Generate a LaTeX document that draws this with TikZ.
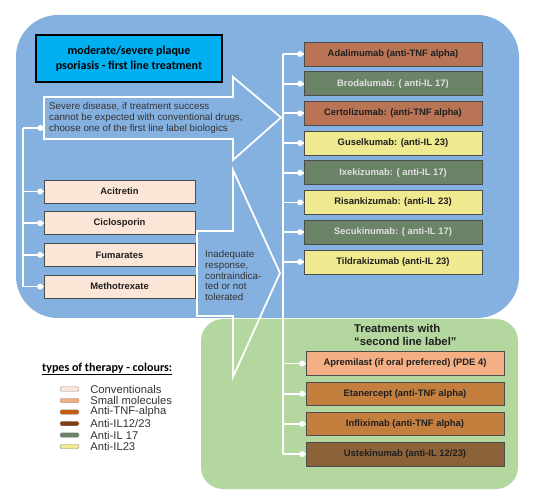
\documentclass[tikz,border=0pt]{standalone}
\usepackage{fontspec}
\setmainfont{Liberation Sans}
\newfontfamily\calib{Carlito}
\usepackage{xcolor}
\usepackage{tikz}
\usetikzlibrary{positioning}

\definecolor{bgblue}{RGB}{133,177,225}
\definecolor{bggreen}{RGB}{180,214,159}
\definecolor{titlecyan}{RGB}{0,176,240}
\definecolor{convfill}{RGB}{251,229,214}
\definecolor{smallfill}{RGB}{244,175,132}
\definecolor{tnffill}{RGB}{185,116,86}
\definecolor{tnftwo}{RGB}{196,127,63}
\definecolor{ilonetwo}{RGB}{140,98,57}
\definecolor{ilseventeen}{RGB}{107,132,104}
\definecolor{iltwothree}{RGB}{239,233,143}
\definecolor{legtnf}{RGB}{197,90,17}
\definecolor{legil}{RGB}{132,60,12}

\begin{document}
\begin{tikzpicture}[x=1pt,y=-1pt,
    drug/.style={draw=black!70,line width=0.7pt,minimum height=24pt,inner sep=0pt,font=\fontsize{9.4}{11}\selectfont\bfseries,text=black!88},
    bio/.style={drug,minimum width=178pt},
    second/.style={drug,minimum width=198pt,minimum height=23.5pt},
    conv/.style={drug,minimum width=151pt,minimum height=23pt,fill=convfill},
    wline/.style={draw=white,line width=1.8pt},
    swatch/.style={draw=black!40,fill=#1,rounded corners=1.5pt,minimum width=19pt,minimum height=4.5pt,inner sep=0pt},
    legtext/.style={font=\fontsize{11.2}{11.5}\selectfont,text=black!80,inner sep=0pt}]
        \useasboundingbox (0,0) rectangle (535,502);
        \fill[white] (0,0) rectangle (535,502);

        \fill[bggreen,rounded corners=22pt] (201,319) rectangle (518,489);
        \fill[bgblue,rounded corners=42pt] (16,15) rectangle (519,318);

        \draw[wline,line join=miter] (44,97)--(233,97)--(233,77)--(281,117.5)--(233,160)--(233,139)--(44,139)--cycle;
        \draw[wline,line join=miter] (197,231)--(233,231)--(233,170)--(280,273)--(233,377)--(233,316)--(197,316)--cycle;

        \node[draw=black,line width=2.5pt,fill=titlecyan,minimum width=186pt,minimum height=47pt,align=center,font=\calib\fontsize{12}{14.5}\selectfont\bfseries] (title) at (129,58.5) {moderate/severe plaque\\psoriasis - first line treatment};

        \node[anchor=north west,align=left,inner sep=0pt,font=\fontsize{9.8}{10.8}\selectfont,text=black!80] (severe) at (49,102.5) {Severe disease, if treatment success\\cannot be expected with conventional drugs,\\choose one of the first line label biologics};
        \node[anchor=north west,align=left,inner sep=0pt,font=\fontsize{9.8}{10.6}\selectfont,text=black!80] (inadequate) at (205,250.5) {Inadequate\\response,\\contraindica-\\ted or not\\tolerated};

        \node[bio,fill=tnffill] (ada) at (393,54) {Adalimumab (anti-TNF alpha)};
        \node[bio,fill=ilseventeen,text=white!88!black,below=5pt of ada] (bro) {Brodalumab: ( anti-IL 17)};
        \node[bio,fill=tnffill,below=5pt of bro] (cer) {Certolizumab: (anti-TNF alpha)};
        \node[bio,fill=iltwothree,below=5pt of cer] (gus) {Guselkumab: (anti-IL 23)};
        \node[bio,fill=ilseventeen,text=white!88!black,below=5pt of gus] (ixe) {Ixekizumab: ( anti-IL 17)};
        \node[bio,fill=iltwothree,below=5pt of ixe] (ris) {Risankizumab: (anti-IL 23)};
        \node[bio,fill=ilseventeen,text=white!88!black,below=5pt of ris] (sec) {Secukinumab: ( anti-IL 17)};
        \node[bio,fill=iltwothree,below=5pt of sec] (til) {Tildrakizumab (anti-IL 23)};

        \node[anchor=north west,align=left,inner sep=0pt,font=\fontsize{11.3}{13}\selectfont\bfseries,text=black!88] (secondline) at (354,324) {Treatments with\\ “second line label”};
        \node[second,fill=smallfill] (apr) at (405,363.5) {Apremilast (if oral preferred) (PDE 4)};
        \node[second,fill=tnftwo,below=6pt of apr] (eta) {Etanercept (anti-TNF alpha)};
        \node[second,fill=tnftwo,below=6pt of eta] (inf) {Infliximab (anti-TNF alpha)};
        \node[second,fill=ilonetwo,below=6pt of inf] (ust) {Ustekinumab (anti-IL 12/23)};

        \node[conv] (aci) at (119.5,191.5) {Acitretin};
        \node[conv,below=8pt of aci] (cic) {Ciclosporin};
        \node[conv,below=8pt of cic] (fum) {Fumarates};
        \node[conv,below=8pt of fum] (met) {Methotrexate};

        \coordinate (rbus) at (283,0);
        \coordinate (lbus) at (23,0);
        \coordinate (sev) at (44,128);
        \draw[wline] (ada.west -| rbus)--(ust.west -| rbus);
        \foreach \b in {ada,bro,cer,gus,ixe,ris,sec,til,apr,eta,inf,ust}{
            \draw[wline] (\b.west -| rbus)--(\b.west);
            \fill[white] ([xshift=-3.5pt]\b.west) circle (3pt);
        }
        \draw[wline] (sev -| lbus)--(met.west -| lbus);
        \draw[wline] (sev -| lbus)--(sev);
        \fill[white] ([xshift=-3.5pt]sev) circle (3pt);
        \foreach \b in {aci,cic,fum,met}{
            \draw[wline] (\b.west -| lbus)--(\b.west);
            \fill[white] ([xshift=-3.5pt]\b.west) circle (3pt);
        }

        \node[anchor=west,inner sep=0pt,font=\calib\fontsize{12}{14}\selectfont\bfseries] (legtitle) at (42,369) {\underline{types of therapy - colours:}};
        \node[swatch=convfill] (s1) at (69.5,389) {};
        \node[swatch=smallfill] (s2) at (69.5,400.5) {};
        \node[swatch=legtnf] (s3) at (69.5,412) {};
        \node[swatch=legil] (s4) at (69.5,423.5) {};
        \node[swatch=ilseventeen] (s5) at (69.5,435) {};
        \node[swatch=iltwothree] (s6) at (69.5,446.5) {};
        \node[legtext,right=11pt of s1] (l1) {Conventionals};
        \node[legtext,right=11pt of s2] (l2) {Small molecules};
        \node[legtext,right=11pt of s3] (l3) {Anti-TNF-alpha};
        \node[legtext,right=11pt of s4] (l4) {Anti-IL12/23};
        \node[legtext,right=11pt of s5] (l5) {Anti-IL 17};
        \node[legtext,right=11pt of s6] (l6) {Anti-IL23};
    \end{tikzpicture}
\end{document}
